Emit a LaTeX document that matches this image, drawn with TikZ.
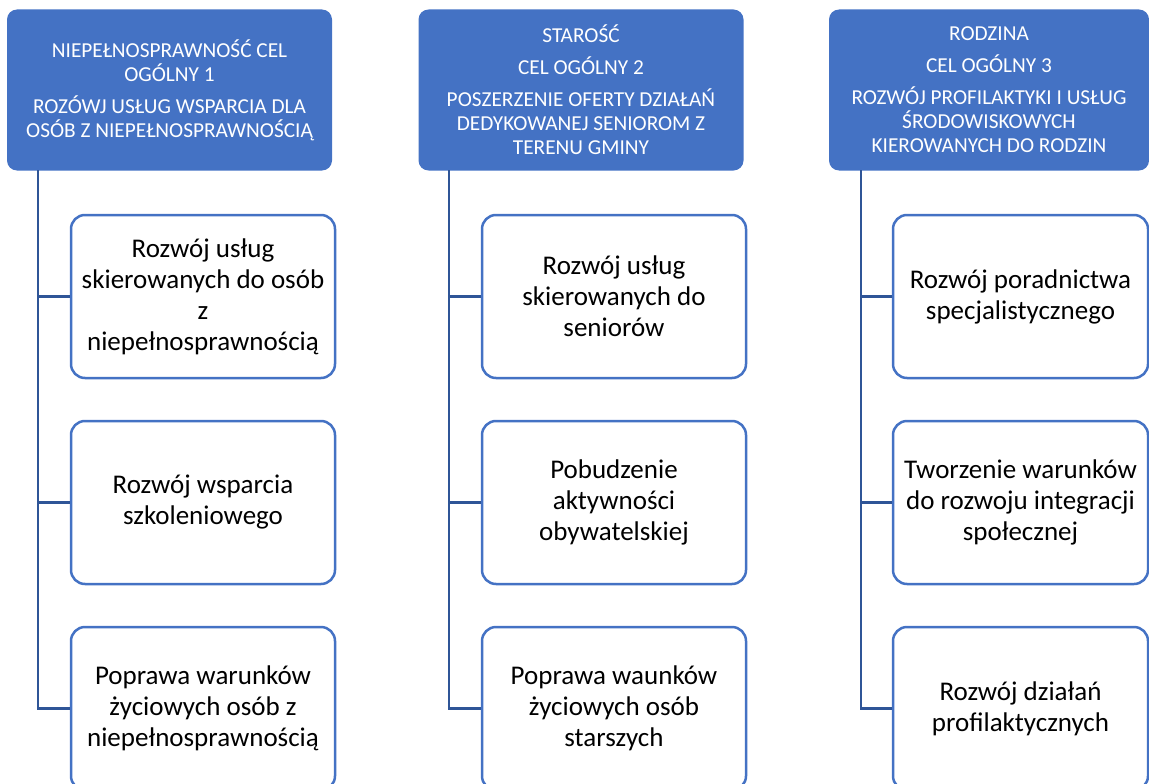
\documentclass[tikz,border=0pt]{standalone}
\usepackage{fontspec}
\setmainfont{Carlito}
\usetikzlibrary{positioning}

\definecolor{celblue}{HTML}{4472C4}
\definecolor{linkblue}{HTML}{2F5597}

\begin{document}
\begin{tikzpicture}[x=1pt,y=-1pt,
		head/.style={fill=celblue,rounded corners=10pt,minimum width=325pt,minimum height=161pt,
			text=white,align=center,inner sep=0pt,font=\fontsize{21.3}{24}\selectfont},
		task/.style={draw=celblue,line width=2.5pt,fill=white,rounded corners=14pt,
			minimum width=264pt,minimum height=163pt,align=center,inner sep=0pt,
			font=\fontsize{27}{31}\selectfont},
		link/.style={draw=linkblue,line width=2.5pt}]
		\clip (0,0) rectangle (1149,784);
		% headers
		\node [head] (h1) at (169.5,90) {NIEPEŁNOSPRAWNOŚĆ CEL\\OGÓLNY 1\\[8pt]ROZÓWJ USŁUG WSPARCIA DLA\\OSÓB Z NIEPEŁNOSPRAWNOŚCIĄ};
		\node [head] (h2) at (581,90) {STAROŚĆ\\[8pt]CEL OGÓLNY 2\\[8pt]POSZERZENIE OFERTY DZIAŁAŃ\\DEDYKOWANEJ SENIOROM Z\\TERENU GMINY};
		\node [head,minimum width=320pt] (h3) at (989,90) {RODZINA\\[8pt]CEL OGÓLNY 3\\[8pt]ROZWÓJ PROFILAKTYKI I USŁUG\\ŚRODOWISKOWYCH\\KIEROWANYCH DO RODZIN};
		% first column
		\node [task] (c11) at (203,296.5) {Rozwój usług\\skierowanych do osób\\z\\niepełnosprawnością};
		\node [task] (c12) at (203,502.5) {Rozwój wsparcia\\szkoleniowego};
		\node [task] (c13) at (203,708.5) {Poprawa warunków\\życiowych osób z\\niepełnosprawnością};
		% second column
		\node [task] (c21) at (614,296.5) {Rozwój usług\\skierowanych do\\seniorów};
		\node [task] (c22) at (614,502.5) {Pobudzenie\\aktywności\\obywatelskiej};
		\node [task] (c23) at (614,708.5) {Poprawa waunków\\życiowych osób\\starszych};
		% third column
		\node [task,minimum width=255pt] (c31) at (1020.5,296.5) {Rozwój poradnictwa\\specjalistycznego};
		\node [task,minimum width=255pt] (c32) at (1020.5,502.5) {Tworzenie warunków\\do rozwoju integracji\\społecznej};
		\node [task,minimum width=255pt] (c33) at (1020.5,708.5) {Rozwój działań\\profilaktycznych};
		% trunks
		\coordinate (t1) at (38,170);
		\coordinate (t2) at (449,170);
		\coordinate (t3) at (861,170);
		\draw [link] (t1) |- (c13.west);
		\draw [link] (c11.west) -- (c11.west -| t1);
		\draw [link] (c12.west) -- (c12.west -| t1);
		\draw [link] (t2) |- (c23.west);
		\draw [link] (c21.west) -- (c21.west -| t2);
		\draw [link] (c22.west) -- (c22.west -| t2);
		\draw [link] (t3) |- (c33.west);
		\draw [link] (c31.west) -- (c31.west -| t3);
		\draw [link] (c32.west) -- (c32.west -| t3);
\end{tikzpicture}
\end{document}
